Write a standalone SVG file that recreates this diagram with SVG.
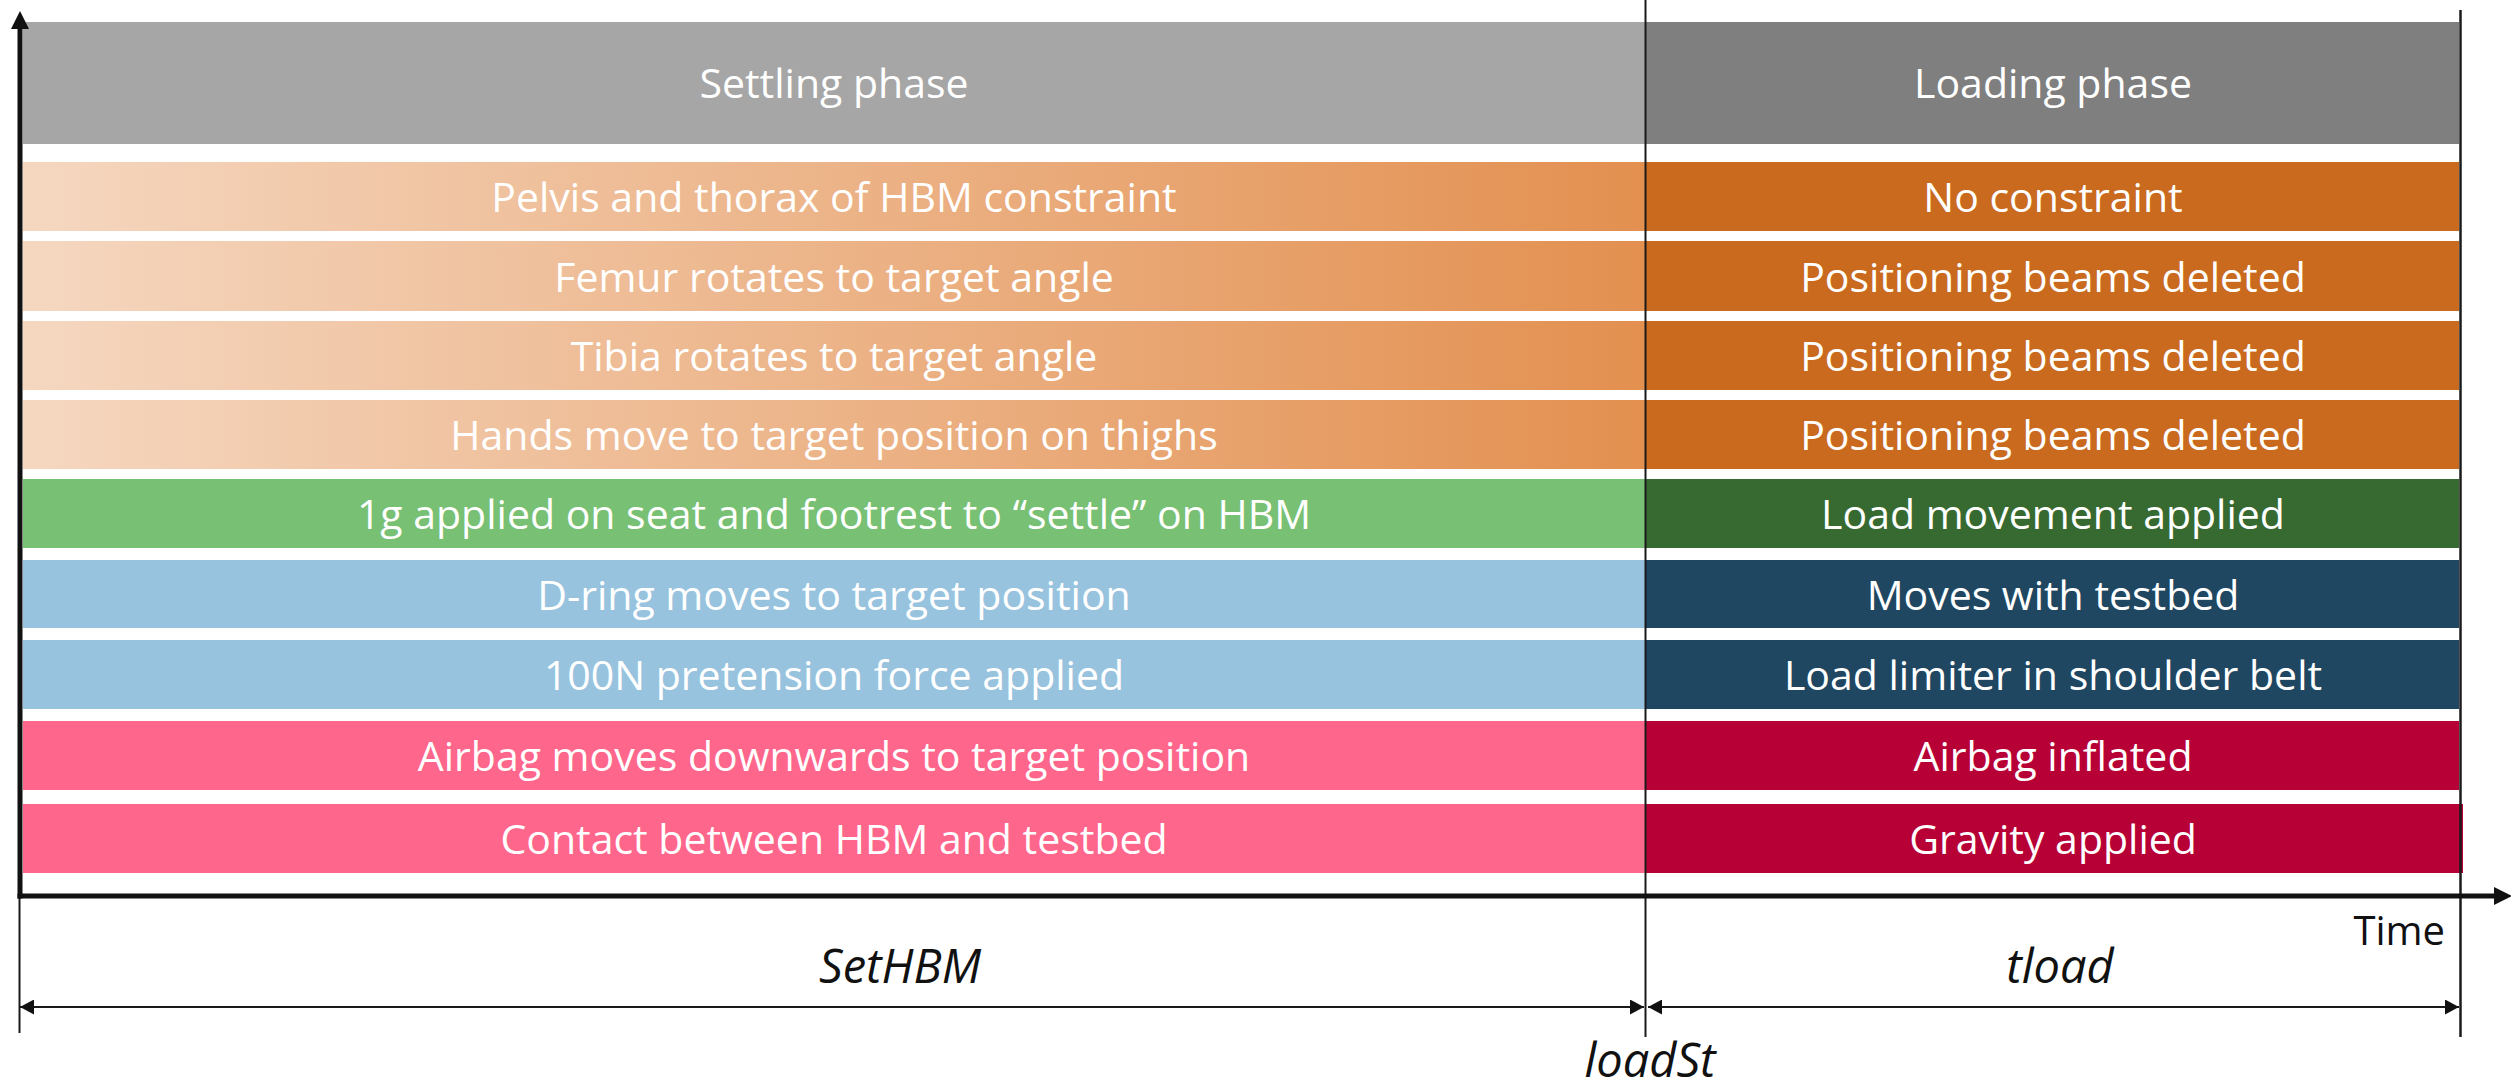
<svg xmlns="http://www.w3.org/2000/svg" width="2511" height="1090" viewBox="0 0 2511 1090">
  <style>
    .lbl { font-family: "Open Sans", "Noto Sans", "DejaVu Sans", sans-serif; font-size: 41px; fill: #ffffff; text-anchor: middle; }
    .dim { font-family: "Open Sans", "Noto Sans", "DejaVu Sans", sans-serif; font-size: 47px; font-style: italic; fill: #111111; text-anchor: middle; }
    .axis { stroke: #111111; stroke-width: 5; fill: none; }
    .guide { stroke: #1a1a1a; stroke-width: 2; fill: none; }
    .span { stroke: #1a1a1a; stroke-width: 2; fill: none; marker-start: url(#dimHead); marker-end: url(#dimHead); }
  </style>
  <defs>
    <linearGradient id="settleOrange" gradientUnits="userSpaceOnUse" x1="23" y1="0" x2="1644" y2="0">
      <stop offset="0" stop-color="#F5D7C0"/>
      <stop offset="1" stop-color="#E39050"/>
    </linearGradient>
    <marker id="axisHead" viewBox="0 0 18 18" refX="0" refY="9" markerWidth="18" markerHeight="18" markerUnits="userSpaceOnUse" orient="auto">
      <path d="M0,0 L18,9 L0,18 z" fill="#111111"/>
    </marker>
    <marker id="dimHead" viewBox="0 0 14 15" refX="14" refY="7.5" markerWidth="14" markerHeight="15" markerUnits="userSpaceOnUse" orient="auto-start-reverse">
      <path d="M0,0 L14,7.5 L0,15 z" fill="#111111"/>
    </marker>
  </defs>

  <rect x="0" y="0" width="2511" height="1090" fill="#ffffff"/>

  <!-- phase headers -->
  <g id="header-settling">
    <rect x="23" y="22" width="1622" height="122" fill="#A6A6A6"/>
    <text class="lbl" x="834" y="98">Settling phase</text>
  </g>
  <g id="header-loading">
    <rect x="1645" y="22" width="814" height="122" fill="#7F7F7F"/>
    <text class="lbl" x="2053" y="98">Loading phase</text>
  </g>

  <!-- HBM positioning -->
  <g id="row-pelvis">
    <rect x="23" y="162" width="1622" height="69" fill="url(#settleOrange)"/>
    <rect x="1645" y="162" width="814" height="69" fill="#C96A1E"/>
    <text class="lbl" x="834" y="212">Pelvis and thorax of HBM constraint</text>
    <text class="lbl" x="2053" y="212">No constraint</text>
  </g>
  <g id="row-femur">
    <rect x="23" y="241" width="1622" height="70" fill="url(#settleOrange)"/>
    <rect x="1645" y="241" width="814" height="70" fill="#C96A1E"/>
    <text class="lbl" x="834" y="292">Femur rotates to target angle</text>
    <text class="lbl" x="2053" y="292">Positioning beams deleted</text>
  </g>
  <g id="row-tibia">
    <rect x="23" y="321" width="1622" height="69" fill="url(#settleOrange)"/>
    <rect x="1645" y="321" width="814" height="69" fill="#C96A1E"/>
    <text class="lbl" x="834" y="371">Tibia rotates to target angle</text>
    <text class="lbl" x="2053" y="371">Positioning beams deleted</text>
  </g>
  <g id="row-hands">
    <rect x="23" y="400" width="1622" height="69" fill="url(#settleOrange)"/>
    <rect x="1645" y="400" width="814" height="69" fill="#C96A1E"/>
    <text class="lbl" x="834" y="450">Hands move to target position on thighs</text>
    <text class="lbl" x="2053" y="450">Positioning beams deleted</text>
  </g>

  <!-- seat -->
  <g id="row-seat">
    <rect x="23" y="479" width="1622" height="69" fill="#78C074"/>
    <rect x="1645" y="479" width="814" height="69" fill="#376A31"/>
    <text class="lbl" x="834" y="529">1g applied on seat and footrest to “settle” on HBM</text>
    <text class="lbl" x="2053" y="529">Load movement applied</text>
  </g>

  <!-- belt -->
  <g id="row-dring">
    <rect x="23" y="560" width="1622" height="68" fill="#98C3DE"/>
    <rect x="1645" y="560" width="814" height="68" fill="#1F4762"/>
    <text class="lbl" x="834" y="610">D-ring moves to target position</text>
    <text class="lbl" x="2053" y="610">Moves with testbed</text>
  </g>
  <g id="row-pretension">
    <rect x="23" y="640" width="1622" height="69" fill="#98C3DE"/>
    <rect x="1645" y="640" width="814" height="69" fill="#1F4762"/>
    <text class="lbl" x="834" y="690">100N pretension force applied</text>
    <text class="lbl" x="2053" y="690">Load limiter in shoulder belt</text>
  </g>

  <!-- airbag and contact -->
  <g id="row-airbag">
    <rect x="23" y="721" width="1622" height="69" fill="#FF668C"/>
    <rect x="1645" y="721" width="814" height="69" fill="#B70035"/>
    <text class="lbl" x="834" y="771">Airbag moves downwards to target position</text>
    <text class="lbl" x="2053" y="771">Airbag inflated</text>
  </g>
  <g id="row-contact">
    <rect x="23" y="804" width="1622" height="69" fill="#FF668C"/>
    <rect x="1645" y="804" width="818" height="69" fill="#B70035"/>
    <text class="lbl" x="834" y="854">Contact between HBM and testbed</text>
    <text class="lbl" x="2053" y="854">Gravity applied</text>
  </g>

  <!-- axes, guides and time spans -->
  <g id="connectors">
    <line class="guide" x1="1645.5" y1="0" x2="1645.5" y2="1037"/>
    <line class="guide" x1="2460.5" y1="10" x2="2460.5" y2="1037" style="stroke-width:2.5"/>
    <line class="guide" x1="19.5" y1="896" x2="19.5" y2="1033"/>
    <line class="axis" x1="17.5" y1="896" x2="2494" y2="896" marker-end="url(#axisHead)"/>
    <line class="axis" x1="20" y1="898.5" x2="20" y2="29" marker-end="url(#axisHead)"/>
    <line class="span" x1="20" y1="1007" x2="1644" y2="1007"/>
    <line class="span" x1="1648" y1="1007" x2="2459" y2="1007"/>
  </g>

  <g id="labels">
    <text x="2445" y="945" style="font-family:'Open Sans','Noto Sans',sans-serif;font-size:40px;fill:#111111;text-anchor:end">Time</text>
    <text class="dim" x="900" y="983">SetHBM</text>
    <text class="dim" x="2060" y="983">tload</text>
    <text class="dim" x="1650" y="1077">loadSt</text>
  </g>
</svg>
